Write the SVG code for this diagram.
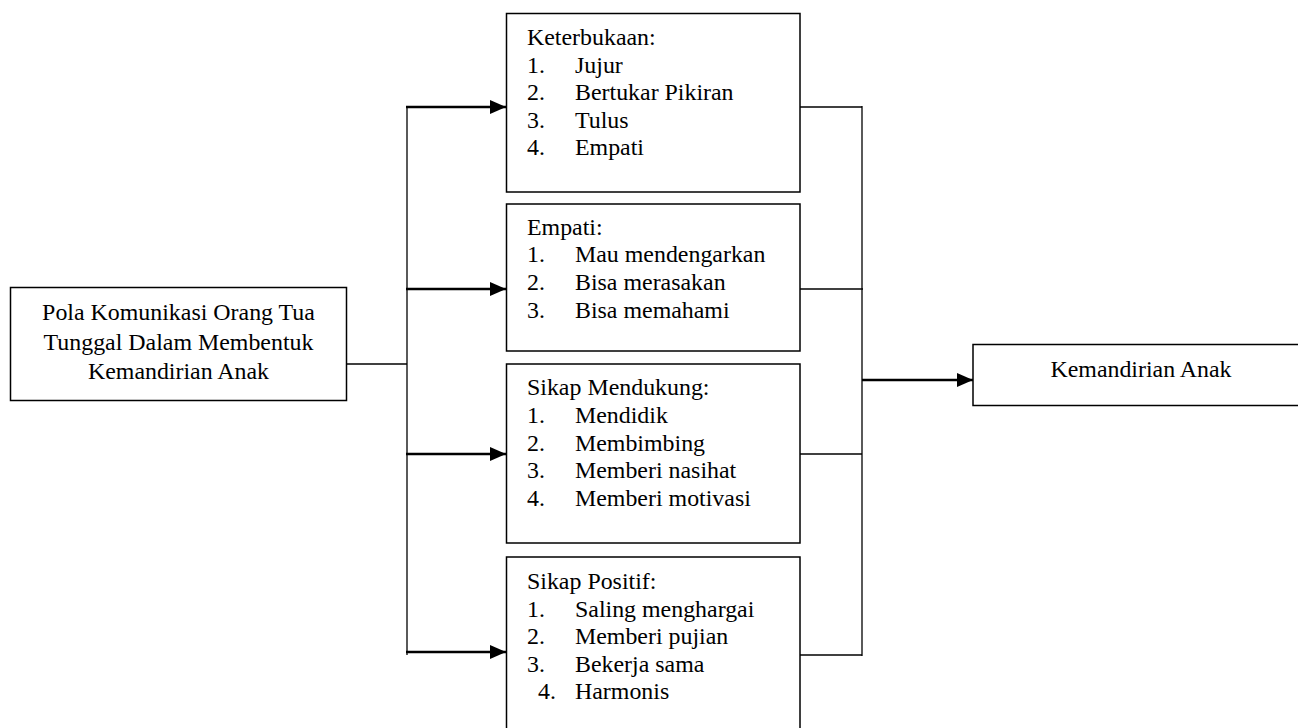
<svg xmlns="http://www.w3.org/2000/svg" width="1298" height="728" viewBox="0 0 1298 728">
<style>
text{font-family:"Liberation Serif","Times New Roman",serif;font-size:23.9px;fill:#000}
.box{fill:#fff;stroke:#000;stroke-width:1.5}
.thin{fill:none;stroke:#000;stroke-width:1.3}
.arr{fill:none;stroke:#000;stroke-width:2.6}
.c{text-anchor:middle}
</style>
<defs>
<marker id="ah" viewBox="0 0 16 14" refX="16" refY="7" markerWidth="16" markerHeight="14" markerUnits="userSpaceOnUse" orient="auto">
<path d="M0,0 L16,7 L0,14 Z" fill="#000"/>
</marker>
</defs>
<rect width="1298" height="728" fill="#fff"/>
<g id="connectors">
<line class="thin" x1="347" y1="364" x2="407" y2="364"/>
<line class="thin" x1="407" y1="106" x2="407" y2="655"/>
<line class="arr" x1="406" y1="107" x2="506" y2="107" marker-end="url(#ah)"/>
<line class="arr" x1="406" y1="289" x2="506" y2="289" marker-end="url(#ah)"/>
<line class="arr" x1="406" y1="454" x2="506" y2="454" marker-end="url(#ah)"/>
<line class="arr" x1="406" y1="652" x2="506" y2="652" marker-end="url(#ah)"/>
<line class="thin" x1="800" y1="107" x2="862" y2="107"/>
<line class="thin" x1="800" y1="289" x2="863" y2="289"/>
<line class="thin" x1="800" y1="454" x2="862" y2="454"/>
<line class="thin" x1="800" y1="655" x2="862" y2="655"/>
<line class="thin" x1="862" y1="106" x2="862" y2="656"/>
<line class="arr" x1="862" y1="380" x2="973" y2="380" marker-end="url(#ah)"/>
</g>
<g id="source">
<rect class="box" x="10.5" y="287.5" width="336" height="113"/>
<text class="c" x="178.5" y="320">Pola Komunikasi Orang Tua</text>
<text class="c" x="178.5" y="350">Tunggal Dalam Membentuk</text>
<text class="c" x="178.5" y="379">Kemandirian Anak</text>
</g>
<g id="keterbukaan">
<rect class="box" x="506.5" y="13.5" width="293.5" height="178.5"/>
<text x="527" y="45">Keterbukaan:</text>
<text x="527" y="73">1.</text><text x="575" y="73">Jujur</text>
<text x="527" y="100">2.</text><text x="575" y="100">Bertukar Pikiran</text>
<text x="527" y="128">3.</text><text x="575" y="128">Tulus</text>
<text x="527" y="155">4.</text><text x="575" y="155">Empati</text>
</g>
<g id="empati">
<rect class="box" x="506.5" y="204" width="293.5" height="147"/>
<text x="527" y="235">Empati:</text>
<text x="527" y="262">1.</text><text x="575" y="262">Mau mendengarkan</text>
<text x="527" y="290">2.</text><text x="575" y="290">Bisa merasakan</text>
<text x="527" y="318">3.</text><text x="575" y="318">Bisa memahami</text>
</g>
<g id="sikap-mendukung">
<rect class="box" x="506.5" y="364" width="293.5" height="179"/>
<text x="527" y="395">Sikap Mendukung:</text>
<text x="527" y="423">1.</text><text x="575" y="423">Mendidik</text>
<text x="527" y="451">2.</text><text x="575" y="451">Membimbing</text>
<text x="527" y="478">3.</text><text x="575" y="478">Memberi nasihat</text>
<text x="527" y="506">4.</text><text x="575" y="506">Memberi motivasi</text>
</g>
<g id="sikap-positif">
<rect class="box" x="506.5" y="557" width="293.5" height="180"/>
<text x="527" y="589">Sikap Positif:</text>
<text x="527" y="617">1.</text><text x="575" y="617">Saling menghargai</text>
<text x="527" y="644">2.</text><text x="575" y="644">Memberi pujian</text>
<text x="527" y="672">3.</text><text x="575" y="672">Bekerja sama</text>
<text x="538" y="699">4.</text><text x="575" y="699">Harmonis</text>
</g>
<g id="kemandirian">
<rect class="box" x="973" y="344.5" width="340" height="61"/>
<text class="c" x="1141" y="377">Kemandirian Anak</text>
</g>
</svg>
